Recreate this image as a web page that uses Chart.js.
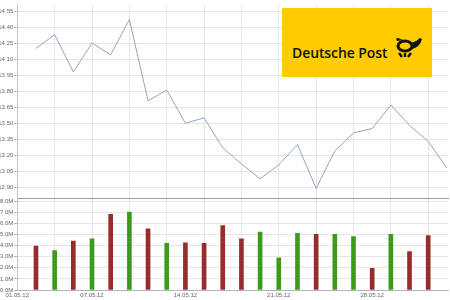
<!DOCTYPE html>
<html>
<head>
<meta charset="utf-8">
<script src="https://cdn.jsdelivr.net/npm/chart.js@4.4.0/dist/chart.umd.min.js"></script>
<style>
  body { margin: 0; background: #fff; }
  #wrap { position: relative; width: 450px; height: 300px; overflow: hidden; }
  #wrap canvas { position: absolute; left: 0; top: 0; }
  #logo { position: absolute; left: 282px; top: 8px; width: 150px; height: 69px; background: #ffcc00; }
  #logo span { position: absolute; left: 10px; top: 35px; font: 600 14px "Open Sans", sans-serif; color: #111; letter-spacing: -0.1px; }
  #logo svg { position: absolute; left: 112px; top: 29px; }
</style>
</head>
<body>
<div id="wrap">
  <canvas id="volChart" width="450" height="300"></canvas>
  <canvas id="priceChart" width="450" height="300"></canvas>
  <div id="logo">
    <span>Deutsche Post</span>
    <svg width="30" height="22" viewBox="0 0 30 22">
      <ellipse cx="11" cy="9" rx="7" ry="5" fill="none" stroke="#111" stroke-width="3"/>
      <path d="M3 4 Q1 1 4 1 L9 3 Z" fill="#111"/>
      <path d="M17 6 Q22 5 26 1 L28 2 Q26 10 18 12 Z" fill="#111"/>
      <path d="M5 16 L8 20 M11 16 L11 20 M17 16 L14 20" stroke="#111" stroke-width="2.4"/>
    </svg>
  </div>
</div>
<script>
// one month of daily data, first entry is the range start (no trading)
var dates = ['01.05.12', '02.05.12', '03.05.12', '04.05.12', '07.05.12', '08.05.12', '09.05.12',
    '10.05.12', '11.05.12', '14.05.12', '15.05.12', '16.05.12', '17.05.12', '18.05.12',
    '21.05.12', '22.05.12', '23.05.12', '24.05.12', '25.05.12', '28.05.12', '29.05.12',
    '30.05.12', '31.05.12', '01.06.12'];
var prices = [null, 14.20, 14.33, 13.98, 14.25, 14.14, 14.47, 13.71, 13.81, 13.50, 13.55,
    13.27, 13.12, 12.98, 13.11, 13.30, 12.89, 13.24, 13.41, 13.45, 13.67, 13.48, 13.33, 13.08];
var volumes = [null, 3950000, 3550000, 4400000, 4600000, 6800000, 7000000, 5500000, 4200000,
    4250000, 4200000, 5800000, 4600000, 5200000, 2900000, 5100000, 5000000, 5000000, 4800000,
    1950000, 5000000, 3450000, 4900000, null];
var volumeUp = [null, false, true, false, true, false, true, false, true, false, false, false,
    false, true, true, true, false, true, true, false, true, false, false, null];
var priceTicks = [12.90, 13.05, 13.20, 13.35, 13.50, 13.65, 13.80, 13.95, 14.10, 14.25, 14.40, 14.55];
var volumeTicks = [0, 1000000, 2000000, 3000000, 4000000, 5000000, 6000000, 7000000, 8000000];
var dateTicks = ['01.05.12', '07.05.12', '14.05.12', '21.05.12', '28.05.12'];

var tickFont = { family: 'Liberation Sans', size: 6 };
var gridColor = '#e6e6e6';
var axisW = 17.3;
var xMax = 23.06;

function points(arr) {
    var out = [];
    arr.forEach(function (v, i) {
        if (v !== null) out.push({ x: i, y: v });
    });
    return out;
}

// grid every 2nd day, labels on the dates in dateTicks
var gridIdx = [];
for (var i = 0; i < dates.length; i += 2) gridIdx.push(i);
var labelIdx = dateTicks.map(function (d) { return dates.indexOf(d); });

function xAxis(withLabels) {
    return {
        type: 'linear',
        min: 0,
        max: xMax,
        offset: false,
        afterBuildTicks: function (scale) {
            var vals = gridIdx.slice();
            if (withLabels) labelIdx.forEach(function (v) { if (vals.indexOf(v) < 0) vals.push(v); });
            vals.sort(function (a, b) { return a - b; });
            scale.ticks = vals.map(function (v) { return { value: v }; });
        },
        afterFit: function (scale) { scale.height = withLabels ? 10 : 0; },
        grid: {
            offset: false,
            color: function (ctx) {
                return (ctx.tick && ctx.tick.value % 2 === 0) ? gridColor : 'rgba(0,0,0,0)';
            },
            drawTicks: withLabels,
            tickLength: 2,
            tickColor: 'rgba(0,0,0,0)'
        },
        border: { color: withLabels ? '#b5b5b5' : '#9a9a9a' },
        ticks: {
            display: withLabels,
            autoSkip: false,
            maxRotation: 0,
            padding: 0,
            font: tickFont,
            color: '#666',
            callback: function (v) {
                var k = labelIdx.indexOf(v);
                return k >= 0 ? dateTicks[k] : '';
            }
        }
    };
}

function yAxis(min, max, tickVals, fmt) {
    return {
        min: min,
        max: max,
        afterBuildTicks: function (scale) {
            scale.ticks = tickVals.map(function (v) { return { value: v }; });
        },
        afterFit: function (scale) { scale.width = axisW; },
        grid: { color: gridColor, tickLength: 3, tickColor: '#aaa' },
        border: { color: '#c8c8c8' },
        ticks: { font: tickFont, color: '#666', padding: 1, callback: fmt }
    };
}

new Chart(document.getElementById('priceChart'), {
    type: 'line',
    data: {
        datasets: [{
            data: points(prices),
            borderColor: '#8ea6c4',
            borderWidth: 1,
            pointRadius: 0,
            tension: 0,
            fill: false
        }]
    },
    options: {
        responsive: false,
        animation: false,
        layout: { padding: { top: 3, bottom: 102, right: 2, left: 0 } },
        plugins: { legend: { display: false }, tooltip: { enabled: false } },
        scales: {
            x: xAxis(false),
            y: yAxis(12.80, 14.61, priceTicks, function (v) { return v.toFixed(2); })
        }
    }
});

new Chart(document.getElementById('volChart'), {
    type: 'bar',
    data: {
        datasets: [{
            data: points(volumes),
            backgroundColor: points(volumes).map(function (p) {
                return volumeUp[p.x] ? '#3f9a1c' : '#992b2b';
            }),
            barThickness: 4
        }]
    },
    options: {
        responsive: false,
        animation: false,
        layout: { padding: { top: 198, bottom: 0, right: 2, left: 0 } },
        plugins: { legend: { display: false }, tooltip: { enabled: false } },
        scales: {
            x: xAxis(true),
            y: yAxis(0, 8270000, volumeTicks, function (v) { return (v / 1000000).toFixed(1) + 'M'; })
        }
    }
});
</script>
</body>
</html>
